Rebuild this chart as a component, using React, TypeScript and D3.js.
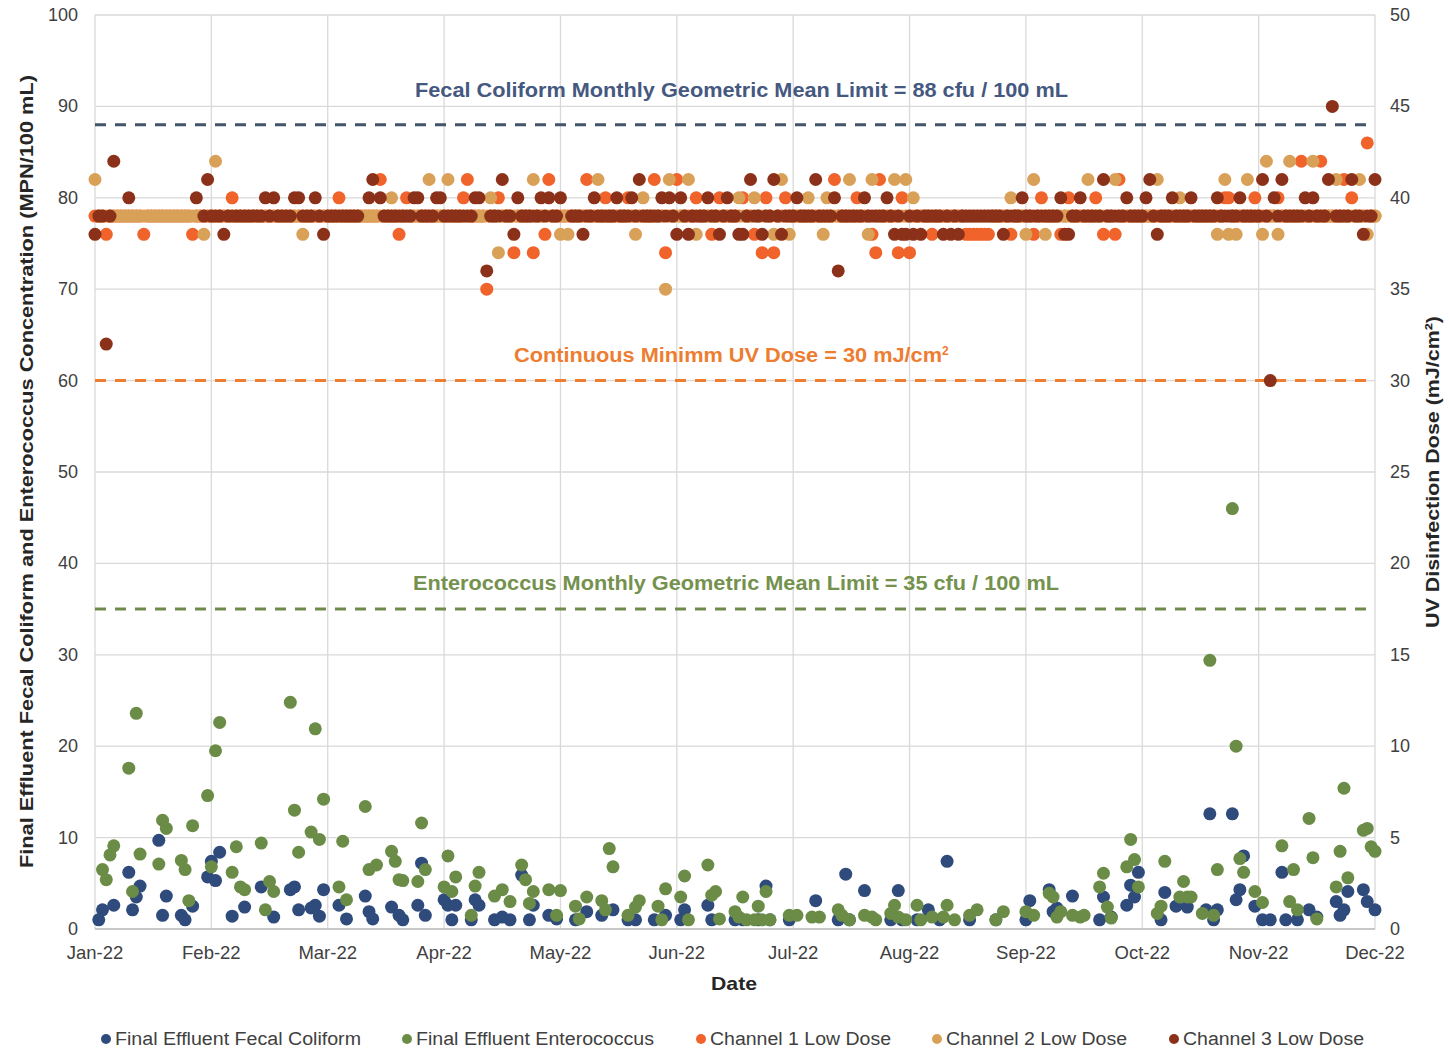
import React from "react";
import * as d3 from "d3";

// ---------- DATA ----------
const monthLabels = ["Jan-22","Feb-22","Mar-22","Apr-22","May-22","Jun-22","Jul-22","Aug-22","Sep-22","Oct-22","Nov-22","Dec-22"];
const leftTicks = [0,10,20,30,40,50,60,70,80,90,100];
const rightTicks = [0,5,10,15,20,25,30,35,40,45,50];

// Final effluent fecal coliform (MPN/100 mL): [MM-DD, value]
const fecalColiform: [string, number][] = [
  ["01-02",1.0],["01-03",2.1],["01-06",2.6],["01-10",6.2],["01-11",2.1],["01-12",3.5],["01-13",4.7],["01-18",9.7],["01-19",1.5],["01-20",3.6],["01-24",1.5],["01-25",1.0],["01-27",2.5],["01-31",5.7],
  ["02-01",7.4],["02-02",5.3],["02-03",8.4],["02-06",1.4],["02-09",2.4],["02-13",4.6],["02-16",1.3],["02-20",4.3],["02-21",4.6],["02-22",2.1],["02-25",2.3],["02-26",2.6],["02-27",1.4],["02-28",4.3],
  ["03-04",2.6],["03-06",1.1],["03-11",3.6],["03-12",1.9],["03-13",1.1],["03-18",2.4],["03-20",1.5],["03-21",1.0],["03-25",2.6],["03-26",7.2],["03-27",1.5],
  ["04-01",3.2],["04-02",2.6],["04-03",1.0],["04-04",2.6],["04-08",1.0],["04-09",3.2],["04-10",2.6],["04-14",1.0],["04-16",1.3],["04-18",1.0],["04-21",5.9],["04-23",1.0],["04-24",2.6],["04-28",1.5],["04-30",1.1],
  ["05-05",1.0],["05-08",1.9],["05-12",1.5],["05-15",2.1],["05-19",1.0],["05-21",1.0],["05-26",1.0],["05-29",1.5],
  ["06-02",1.0],["06-03",2.1],["06-09",2.6],["06-10",1.0],["06-16",1.0],["06-18",1.0],["06-22",1.0],["06-24",4.7],["06-25",1.0],["06-30",1.0],
  ["07-07",3.1],["07-13",1.0],["07-15",6.0],["07-16",1.0],["07-20",4.2],["07-27",1.0],["07-29",4.2],["07-30",1.0],
  ["08-03",1.0],["08-06",2.1],["08-09",1.0],["08-11",7.4],["08-17",1.0],["08-24",1.0],
  ["09-01",1.0],["09-02",3.1],["09-07",4.3],["09-08",1.9],["09-09",2.3],["09-13",3.6],["09-20",1.0],["09-21",3.5],["09-23",1.3],["09-27",2.6],["09-28",4.8],["09-29",3.5],["09-30",6.2],
  ["10-06",1.0],["10-07",4.0],["10-10",2.5],["10-13",2.4],["10-18",2.1],["10-19",12.6],["10-20",1.0],["10-21",2.1],["10-25",12.6],["10-26",3.2],["10-27",4.3],["10-28",8.0],["10-31",2.5],
  ["11-02",1.0],["11-04",1.0],["11-07",6.2],["11-08",1.0],["11-11",1.0],["11-14",2.1],["11-16",1.3],["11-21",3.0],["11-22",1.5],["11-23",2.1],["11-24",4.1],["11-28",4.3],["11-29",3.0],
  ["12-01",2.1],
];

// Final effluent enterococcus (MPN/100 mL): [MM-DD, value]
const enterococcus: [string, number][] = [
  ["01-03",6.5],["01-04",5.4],["01-05",8.1],["01-06",9.1],["01-10",17.6],["01-11",4.1],["01-12",23.6],["01-13",8.2],["01-18",7.1],["01-19",11.9],["01-20",11.0],["01-24",7.5],["01-25",6.5],["01-26",3.1],["01-27",11.3],["01-31",14.6],
  ["02-01",6.8],["02-02",19.5],["02-03",22.6],["02-06",6.2],["02-07",9.0],["02-08",4.6],["02-09",4.3],["02-13",9.4],["02-14",2.1],["02-15",5.2],["02-16",4.1],["02-20",24.8],["02-21",13.0],["02-22",8.4],["02-25",10.6],["02-26",21.9],["02-27",9.8],["02-28",14.2],
  ["03-04",4.6],["03-05",9.6],["03-06",3.2],["03-11",13.4],["03-12",6.5],["03-14",7.0],["03-18",8.5],["03-19",7.4],["03-20",5.4],["03-21",5.3],["03-25",5.2],["03-26",11.6],["03-27",6.5],
  ["04-01",4.6],["04-02",8.0],["04-03",4.1],["04-04",5.7],["04-08",1.5],["04-09",4.7],["04-10",6.2],["04-14",3.6],["04-16",4.3],["04-18",3.0],["04-21",7.0],["04-22",5.4],["04-23",2.8],["04-24",4.1],["04-28",4.3],["04-30",1.5],
  ["05-01",4.2],["05-05",2.5],["05-06",1.1],["05-08",3.5],["05-12",3.1],["05-13",2.1],["05-14",8.8],["05-15",6.8],["05-19",1.5],["05-21",2.4],["05-22",3.1],["05-27",2.5],["05-28",1.0],["05-29",4.4],
  ["06-02",3.5],["06-03",5.8],["06-04",1.0],["06-09",7.0],["06-10",3.7],["06-11",4.1],["06-12",1.1],["06-16",1.9],["06-17",1.3],["06-18",3.5],["06-19",1.0],["06-21",1.0],["06-22",2.5],["06-23",1.0],["06-24",4.1],["06-25",1.0],["06-30",1.5],
  ["07-02",1.5],["07-06",1.3],["07-08",1.3],["07-13",2.1],["07-14",1.5],["07-16",1.0],["07-20",1.5],["07-22",1.3],["07-23",1.0],["07-27",1.7],["07-28",2.6],["07-29",1.3],["07-31",1.0],
  ["08-03",2.6],["08-04",1.0],["08-07",1.3],["08-10",1.3],["08-11",2.6],["08-13",1.0],["08-17",1.5],["08-19",2.1],["08-24",1.0],["08-26",1.9],
  ["09-01",1.9],["09-03",1.5],["09-07",3.9],["09-08",3.5],["09-09",1.3],["09-10",1.9],["09-13",1.5],["09-15",1.3],["09-16",1.5],["09-20",4.6],["09-21",6.1],["09-22",2.4],["09-23",1.2],["09-27",6.8],["09-28",9.8],["09-29",7.6],["09-30",4.6],
  ["10-05",1.7],["10-06",2.5],["10-07",7.4],["10-11",3.5],["10-12",5.2],["10-13",3.5],["10-14",3.5],["10-17",1.7],["10-19",29.4],["10-20",1.5],["10-21",6.5],["10-25",46.0],["10-26",20.0],["10-27",7.7],["10-28",6.2],["10-31",4.1],
  ["11-02",2.9],["11-07",9.1],["11-09",3.0],["11-10",6.5],["11-11",2.1],["11-14",12.1],["11-15",7.8],["11-16",1.1],["11-21",4.6],["11-22",8.5],["11-23",15.4],["11-24",5.6],["11-28",10.8],["11-29",11.0],["11-30",9.0],
  ["12-01",8.5],
];

// Daily UV dose (mJ/cm²), one value per day from Jan 1 to Dec 1, 2022
const channel1Dose: (number | null)[] = [
  39,39,39,38,39,39,39,39,39,39, 39,39,39,38,39,39,39,39,39,39, 39,39,39,39,39,39,38,39,39,39, 39, // Jan
  39,39,39,39,39,40,39,39,39,39, 39,39,39,39,39,39,39,39,39,39, 39,39,39,39,39,39,39,39, // Feb
  39,39,39,40,39,39,39,39,39,39, 39,39,39,39,41,39,39,39,39,38, 39,40,39,39,39,39,39,39,39,39, 39, // Mar
  39,39,39,39,39,40,41,39,39,39, 39,35,39,39,40,39,39,39,37,39, 39,39,39,37,39,39,38,41,39,39, // Apr
  39,39,39,39,39,39,39,41,39,39, 39,39,40,39,39,39,39,39,40,39, 39,39,39,39,39,41,39,39,37,39, 39, // May
  41,39,39,39,39,40,39,39,39,38, 39,40,39,39,39,39,39,40,39,39, 38,39,37,40,39,37,39,39,40,39, // Jun
  39,39,39,39,39,39,39,39,39,39, 39,41,39,39,39,39,39,40,39,39, 39,38,37,41,39,39,39,39,37,40, 39, // Jul
  37,39,39,39,39,39,38,39,39,39, 39,39,39,39,39,38,38,38,38,38, 38,38,39,39,39,39,39,38,39,39, 39, // Aug
  39,39,38,39,40,39,39,39,39,38, 39,40,39,39,39,39,39,39,40,39, 38,39,39,38,41,39,39,39,39,39, // Sep
  39,39,39,39,39,39,39,39,39,39, 39,39,39,39,39,39,39,39,39,39, 39,39,40,40,39,39,39,39,39,39, 40, // Oct
  39,39,39,39,39,40,39,39,39,39, 39,42,39,39,39,39,42,39,39,39, 39,39,41,39,40,39,39,39,43,39, // Nov
  39, // Dec 1
];

const channel2Dose: (number | null)[] = [
  41,39,39,39,39,39,39,39,39,39, 39,39,39,39,39,39,39,39,39,39, 39,39,39,39,39,39,39,39,39,38, 39, // Jan
  39,42,39,39,39,39,39,39,39,39, 39,39,39,39,39,39,39,39,39,39, 39,39,38,39,39,39,39,39, // Feb
  39,39,39,39,39,39,39,39,39,39, 39,39,39,39,39,39,39,40,39,39, 39,39,39,39,39,39,39,41,39,39, 39, // Mar
  39,41,39,39,39,39,39,39,39,39, 39,39,40,39,37,39,39,39,39,39, 39,39,39,41,39,39,39,39,39,39, // Apr
  38,39,38,39,39,39,39,39,39,39, 41,39,39,39,39,39,39,39,39,39, 38,39,40,39,39,39,39,39,35,41, 39, // May
  39,39,39,41,39,38,39,39,39,39, 39,39,39,39,39,39,40,39,39,39, 40,39,39,39,39,38,39,41,39,38, // Jun
  39,39,39,39,40,39,39,39,38,40, 39,39,39,39,39,41,39,39,39,39, 38,41,39,39,39,39,39,41,39,39, 41, // Jul
  39,40,39,39,39,39,39,39,39,39, 39,39,39,39,39,39,39,39,39,39, 39,39,39,39,39,39,39,40,39,39, 39, // Aug
  38,39,41,39,39,38,39,39,39,39, 39,39,39,39,39,39,41,39,39,39, 39,39,39,41,39,39,39,39,39,39, // Sep
  39,39,39,39,41,39,39,39,39,39, 40,39,39,39,39,39,39,39,39,39, 38,39,41,38,39,38,39,39,41,39, 39, // Oct
  39,38,42,39,39,38,39,39,42,39, 39,39,39,39,42,39,39,39,39,39, 41,39,39,39,39,39,41,39,38,39, // Nov
  39, // Dec 1
];

const channel3Dose: (number | null)[] = [
  38,39,39,32,39,42,null,null,null,40, null,null,null,null,null,null,null,null,null,null, null,null,null,null,null,null,null,40,null,39, 41, // Jan
  39,39,39,38,39,39,39,39,39,39, 39,39,39,40,39,40,39,39,39,39, 40,40,39,39,39,40,39,38, // Feb
  39,39,39,39,39,39,39,39,39,null, null,40,41,null,40,39,39,39,39,39, 39,39,39,40,40,39,39,39,39,40, 40, // Mar
  39,39,39,39,39,39,39,39,40,40, null,36,39,39,39,41,39,39,38,40, 39,39,39,39,39,40,39,40,39,39, // Apr
  40,null,null,39,39,39,38,39,39,40, 39,39,39,39,39,40,39,39,39,40, 39,41,39,39,39,39,39,40,39,40, 39, // May
  38,40,39,38,39,39,39,39,40,39, 39,38,39,40,39,39,38,38,39,41, 39,39,38,39,39,41,39,38,39,39, // Jun
  39,40,39,39,39,39,41,39,39,39, 39,40,36,39,39,39,39,39,39,40, 39,39,39,39,39,40,39,38,39,38, 38, // Jul
  39,38,39,38,39,39,39,39,39,38, 39,38,39,38,39,39,39,39,39,39, 39,39,39,39,39,38,39,39,39,39, 40, // Aug
  39,39,39,39,39,39,39,39,39,40, 38,38,39,39,40,39,39,39,39,39, 41,39,39,39,39,39,40,39,39,39, // Sep
  39,40,41,39,38,39,39,39,40,39, 39,39,39,40,39,39,39,39,39,39, 40,39,39,39,39,39,40,39,39,39, 39, // Oct
  39,41,39,30,40,39,41,39,39,39, 39,39,40,39,40,39,39,39,41,45, 39,39,39,39,41,39,39,38,39,39, // Nov
  41, // Dec 1
];

const limits = [
  { label: "Fecal Coliform Monthly Geometric Mean Limit = 88 cfu / 100 mL", value: 88 },
  { label: "Continuous Minimm UV Dose = 30 mJ/cm", value: 30 },
  { label: "Enterococcus Monthly Geometric Mean Limit = 35 cfu / 100 mL", value: 35 },
];

const legendLabels = ["Final Effluent Fecal Coliform", "Final Effluent Enterococcus", "Channel 1 Low Dose", "Channel 2 Low Dose", "Channel 3 Low Dose"];

// ---------- STYLE ----------
const W = 1449, H = 1050;
const M = { left: 95, right: 1375, top: 15, bottom: 929 };
const FONT = "'Liberation Sans', Arial, Helvetica, sans-serif";
const C = {
  fecal: "#2f4b7c",
  entero: "#6b8c46",
  ch1: "#f0632b",
  ch2: "#d9a158",
  ch3: "#8c3119",
  grid: "#d9d9d9",
  tick: "#404040",
  fecalLine: "#44546a",
  fecalText: "#45587f",
  uvLine: "#ed7d31",
  enteroLine: "#6e8b4d",
  enteroText: "#74914e",
};
const R = 6.5;
const legendX = [106, 407, 701, 937, 1174];
const legendW = [246, 238, 181, 181, 181];

export default function App() {
  const monthStarts = d3.range(12).map((m) => new Date(2022, m, 1));
  const x = d3
    .scaleTime()
    .domain(monthStarts)
    .range(monthStarts.map((_, i) => M.left + (i * (M.right - M.left)) / 11));
  const yL = d3.scaleLinear().domain([0, 100]).range([M.bottom, M.top]);
  const yR = d3.scaleLinear().domain([0, 50]).range([M.bottom, M.top]);

  const parse = (s: string) => {
    const [m, d] = s.split("-").map(Number);
    return new Date(2022, m - 1, d);
  };
  const dayDate = (i: number) => new Date(2022, 0, 1 + i);

  const uvSeries = [
    { data: channel1Dose, color: C.ch1 },
    { data: channel2Dose, color: C.ch2 },
    { data: channel3Dose, color: C.ch3 },
  ];
  const legendColors = [C.fecal, C.entero, C.ch1, C.ch2, C.ch3];

  return (
    <svg width={W} height={H} style={{ position: "absolute", left: 0, top: 0, background: "#fff" }} fontFamily={FONT}>
      {/* gridlines */}
      {leftTicks.map((t) => (
        <line key={"h" + t} x1={M.left} x2={M.right} y1={yL(t)} y2={yL(t)} stroke={C.grid} strokeWidth={1.3} />
      ))}
      {monthStarts.map((d, i) => (
        <line key={"v" + i} x1={x(d)} x2={x(d)} y1={M.top} y2={M.bottom} stroke={C.grid} strokeWidth={1.3} />
      ))}
      <line x1={M.left} x2={M.right} y1={M.bottom} y2={M.bottom} stroke="#bfbfbf" strokeWidth={1.5} />

      {/* tick labels */}
      {leftTicks.map((t) => (
        <text key={"lt" + t} x={78} y={yL(t) + 6} textAnchor="end" fontSize={18} fill={C.tick}>{t}</text>
      ))}
      {rightTicks.map((t) => (
        <text key={"rt" + t} x={1390} y={yR(t) + 6} textAnchor="start" fontSize={18} fill={C.tick}>{t}</text>
      ))}
      {monthStarts.map((d, i) => (
        <text key={"xt" + i} x={x(d)} y={959} textAnchor="middle" fontSize={18.5} fill={C.tick}>{monthLabels[i]}</text>
      ))}

      {/* axis titles */}
      <text x={711} y={990} fontSize={19} fontWeight="bold" fill="#262626" textLength={46} lengthAdjust="spacingAndGlyphs">Date</text>
      <text transform={`translate(33,868) rotate(-90)`} fontSize={18.5} fontWeight="bold" fill="#262626" textLength={793} lengthAdjust="spacingAndGlyphs">
        Final Effluent Fecal Coliform and Enterococcus Concentration (MPN/100 mL)
      </text>
      <text transform={`translate(1439,628) rotate(-90)`} fontSize={18.5} fontWeight="bold" fill="#262626" textLength={312} lengthAdjust="spacingAndGlyphs">
        UV Disinfection Dose (mJ/cm²)
      </text>

      {/* limit lines */}
      <line x1={M.left} x2={M.right} y1={yL(limits[0].value)} y2={yL(limits[0].value)} stroke={C.fecalLine} strokeWidth={3} strokeDasharray="11,9" />
      <line x1={M.left} x2={M.right} y1={yR(limits[1].value)} y2={yR(limits[1].value)} stroke={C.uvLine} strokeWidth={3} strokeDasharray="11,9" />
      <line x1={M.left} x2={M.right} y1={yL(limits[2].value)} y2={yL(limits[2].value)} stroke={C.enteroLine} strokeWidth={3} strokeDasharray="11,9" />

      <text x={415} y={97} fontSize={19.5} fontWeight="bold" fill={C.fecalText} textLength={653} lengthAdjust="spacingAndGlyphs">{limits[0].label}</text>
      <text x={514} y={362} fontSize={19.5} fontWeight="bold" fill={C.uvLine}>
        <tspan textLength={428} lengthAdjust="spacingAndGlyphs">{limits[1].label}</tspan>
        <tspan fontSize={12} dy={-7}>2</tspan>
      </text>
      <text x={413} y={590} fontSize={19.5} fontWeight="bold" fill={C.enteroText} textLength={646} lengthAdjust="spacingAndGlyphs">{limits[2].label}</text>

      {/* bacteria points */}
      <g>
        {fecalColiform.map(([d, v], i) => (
          <circle key={"f" + i} cx={x(parse(d))} cy={yL(v)} r={R} fill={C.fecal} />
        ))}
      </g>
      <g>
        {enterococcus.map(([d, v], i) => (
          <circle key={"e" + i} cx={x(parse(d))} cy={yL(v)} r={R} fill={C.entero} />
        ))}
      </g>

      {/* UV dose points */}
      {uvSeries.map((s, si) => (
        <g key={"uv" + si}>
          {s.data.map((v, i) =>
            v == null ? null : <circle key={i} cx={x(dayDate(i))} cy={yR(v)} r={R} fill={s.color} />
          )}
        </g>
      ))}

      {/* legend */}
      {legendLabels.map((l, i) => (
        <g key={"lg" + i}>
          <circle cx={legendX[i]} cy={1039} r={5} fill={legendColors[i]} />
          <text x={legendX[i] + 9} y={1045} fontSize={18} fill={C.tick} textLength={legendW[i]} lengthAdjust="spacingAndGlyphs">{l}</text>
        </g>
      ))}
    </svg>
  );
}
